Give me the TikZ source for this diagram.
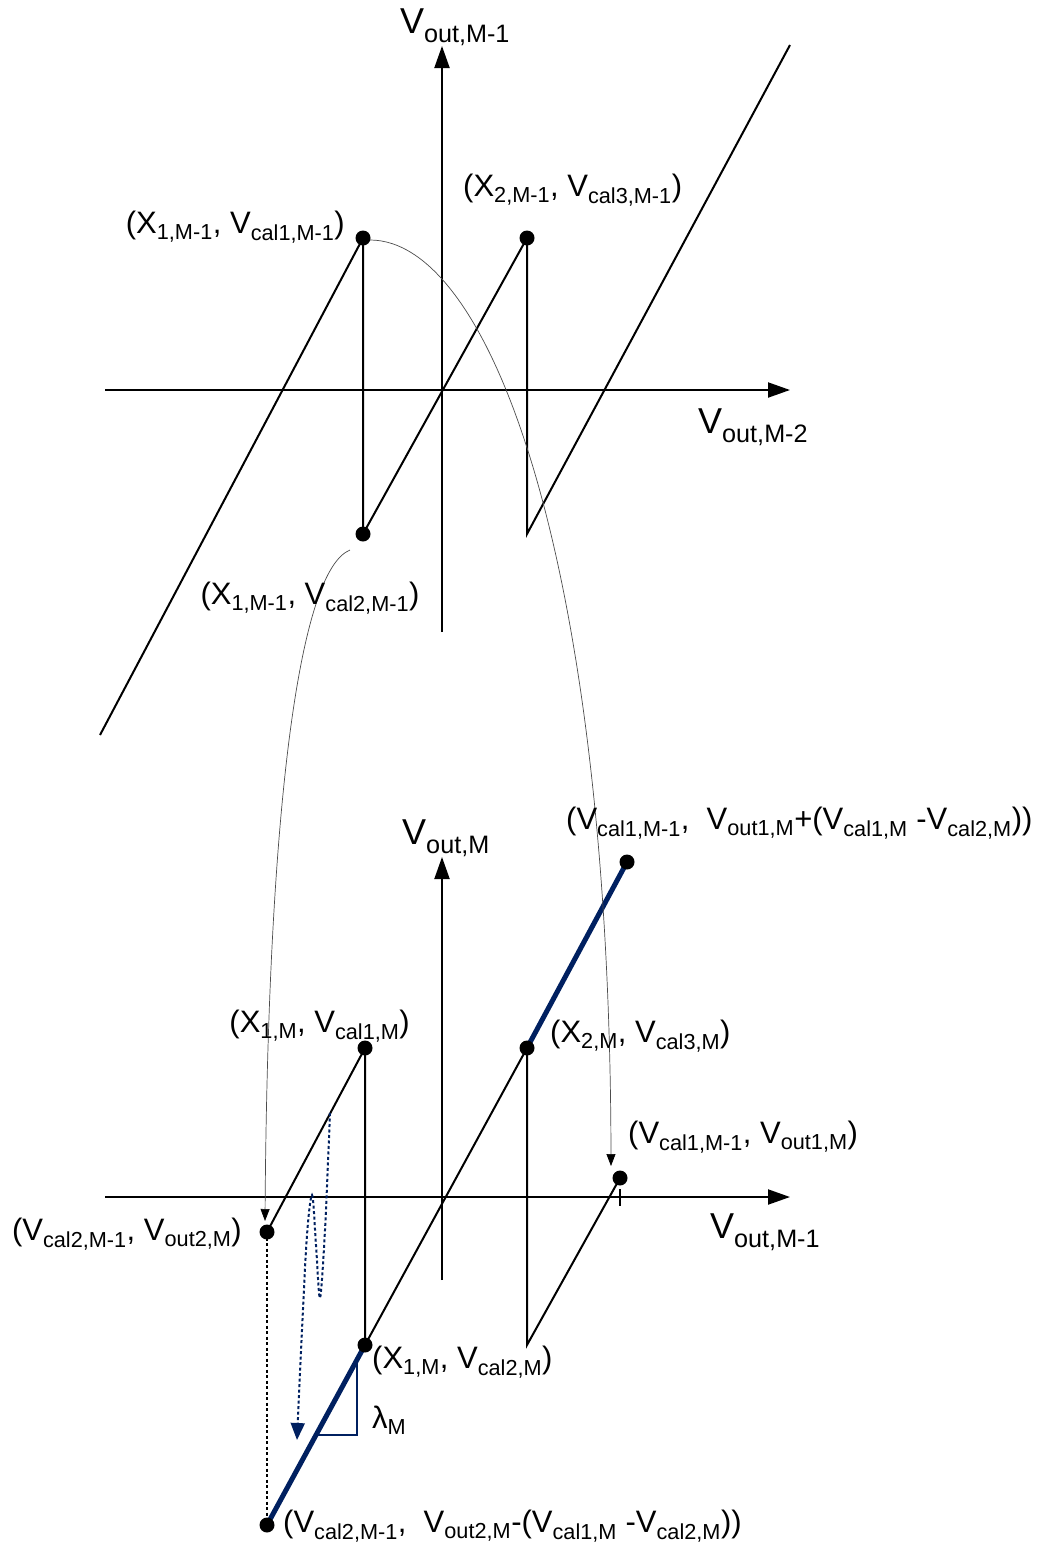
\documentclass[tikz,border=0pt]{standalone}
\usepackage{fontspec}
\setmainfont{Liberation Sans}
\usetikzlibrary{arrows.meta}
\definecolor{TransferNavy}{RGB}{0,32,96}
\newcommand{\lo}[1]{\textsubscript{#1}}

\begin{document}
\begin{tikzpicture}[x=1pt,y=-1pt,
   ax/.style={line width=2pt,-{Triangle[length=22pt,width=15pt]}},
   seg/.style={line width=2pt},
   fitln/.style={TransferNavy,line width=5pt},
   lnk/.style={gray!60!black,line width=0.7pt,-{Triangle[length=12pt,width=9pt,black]}},
   pnt/.style={circle,fill=black,inner sep=0pt,minimum size=15pt},
   lbl/.style={inner sep=0pt,font=\fontsize{31}{37}\selectfont},
   axlbl/.style={inner sep=0pt,font=\fontsize{36}{42}\selectfont}]
\useasboundingbox (0,0) rectangle (1045,1545);
% upper stage
\coordinate (uxl) at (105,390);
\coordinate (uxr) at (790,390);
\coordinate (uyb) at (442,632);
\coordinate (uyt) at (442,46);
\coordinate (ulo) at (100,735);
\coordinate (u1) at (363,238);
\coordinate (u2) at (363,534);
\coordinate (u3) at (527,238);
\coordinate (u4) at (527,534);
\coordinate (uhi) at (790,45);
\draw[ax] (uxl) -- (uxr);
\draw[ax] (uyb) -- (uyt);
\draw[seg] (ulo) -- (u1) -- (u2) -- (u3) -- (u4) -- (uhi);
% lower stage
\coordinate (lxl) at (105,1197);
\coordinate (lxr) at (790,1197);
\coordinate (lyb) at (442,1280);
\coordinate (lyt) at (442,857);
\coordinate (la) at (267,1232);
\coordinate (l1) at (365,1048);
\coordinate (l2) at (365,1345);
\coordinate (l3) at (527,1048);
\coordinate (l4) at (527,1345);
\coordinate (lb) at (620,1178);
\coordinate (lc) at (627,862);
\coordinate (ld) at (267,1525);
\draw[ax] (lxl) -- (lxr);
\draw[ax] (lyb) -- (lyt);
\draw[seg] (la) -- (l1) -- (l2) -- (l3) -- (l4) -- (lb);
\draw[line width=1.5pt] (620,1189) -- (620,1206);
\draw[line width=2pt,dash pattern=on 3pt off 2.5pt] (la) -- (ld);
\draw[fitln] (ld) -- (l2);
\draw[fitln] (l3) -- (lc);
\coordinate (tria) at (318,1435);
\coordinate (trib) at (357,1360);
\draw[TransferNavy,line width=2.5pt] (tria) -| (trib);
% mapping curves
\coordinate (m1s) at (370,240);
\coordinate (m1e) at (611,1166);
\coordinate (m2s) at (350,550);
\coordinate (m2e) at (265,1221);
\draw[lnk] (m1s) .. controls (490,240) and (610,560) .. (m1e);
\draw[lnk] (m2s) .. controls (300,570) and (268,800) .. (m2e);
\coordinate (ws) at (330,1113);
\coordinate (we) at (297,1440);
\draw[TransferNavy,line width=2pt,dash pattern=on 3pt off 2.5pt,-{Triangle[length=17pt,width=14pt]}]
   plot[smooth,tension=0.5] coordinates {(ws) (325,1230) (320,1298) (316,1245) (312,1195) (306,1250) (we)};
\foreach \p in {u1,u2,u3,l1,l2,l3,la,lb,lc,ld}
   \node[pnt] (d\p) at (\p) {};
% labels
\node[axlbl] (tyu) at (455,27) {V\lo{out,M-1}};
\node[axlbl,anchor=west] (txu) at (698,427) {V\lo{out,M-2}};
\node[lbl,anchor=east] (tu1) at (345,227) {(X\lo{1,M-1}, V\lo{cal1,M-1})};
\node[lbl,anchor=west] (tu3) at (463,190) {(X\lo{2,M-1}, V\lo{cal3,M-1})};
\node[lbl] (tu2) at (310,598) {(X\lo{1,M-1}, V\lo{cal2,M-1})};
\node[axlbl] (tyl) at (446,838) {V\lo{out,M}};
\node[axlbl,anchor=west] (txl) at (710,1232) {V\lo{out,M-1}};
\node[lbl,anchor=west] (tlc) at (566,823) {(V\lo{cal1,M-1},\ \ V\lo{out1,M}+(V\lo{cal1,M} -V\lo{cal2,M}))};
\node[lbl,anchor=east] (tl1) at (410,1026) {(X\lo{1,M}, V\lo{cal1,M})};
\node[lbl,anchor=west] (tl3) at (550,1036) {(X\lo{2,M}, V\lo{cal3,M})};
\node[lbl,anchor=west] (tlb) at (628,1137) {(V\lo{cal1,M-1}, V\lo{out1,M})};
\node[lbl,anchor=east] (tla) at (242,1234) {(V\lo{cal2,M-1}, V\lo{out2,M})};
\node[lbl,anchor=west] (tl2) at (372,1362) {(X\lo{1,M}, V\lo{cal2,M})};
\node[lbl,anchor=west] (tlam) at (372,1420) {λ\lo{M}};
\node[lbl,anchor=west] (tld) at (283,1526) {(V\lo{cal2,M-1},\ \ V\lo{out2,M}-(V\lo{cal1,M} -V\lo{cal2,M}))};
\end{tikzpicture}
\end{document}
